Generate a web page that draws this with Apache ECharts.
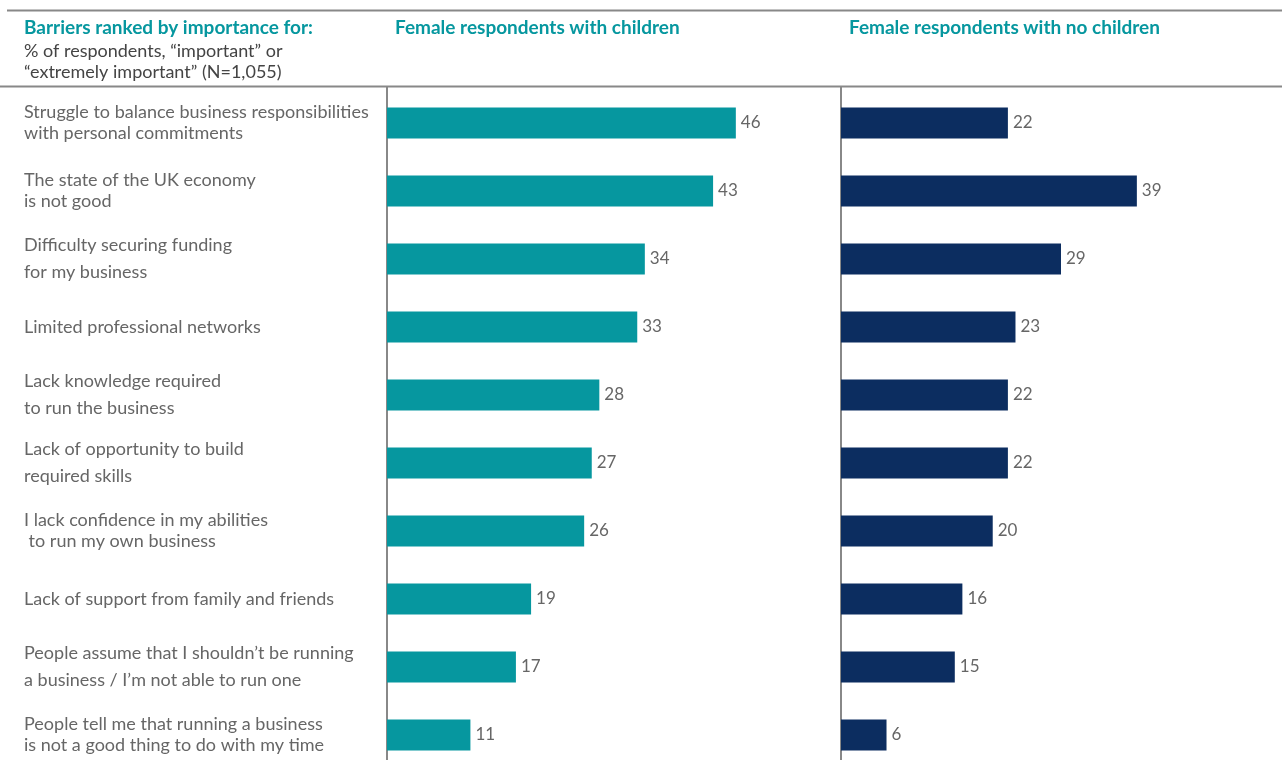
<!DOCTYPE html>
<html>
<head>
<meta charset="utf-8">
<script src="https://cdn.jsdelivr.net/npm/echarts@6/dist/echarts.min.js"></script>
<style>
    html, body { margin: 0; padding: 0; background: #fff; }
    #chart { width: 1282px; height: 760px; }
</style>
</head>
<body>
<div id="chart"></div>
<script>
    // barrier labels (top to bottom)
    const barriers = [
        'Struggle to balance business responsibilities\nwith personal commitments',
        'The state of the UK economy\nis not good',
        'Difficulty securing funding\nfor my business',
        'Limited professional networks',
        'Lack knowledge required\nto run the business',
        'Lack of opportunity to build\nrequired skills',
        'I lack confidence in my abilities\n to run my own business',
        'Lack of support from family and friends',
        'People assume that I shouldn\u2019t be running\na business / I\u2019m not able to run one',
        'People tell me that running a business\nis not a good thing to do with my time'
    ];
    const withChildren = [46, 43, 34, 33, 28, 27, 26, 19, 17, 11];
    const noChildren = [22, 39, 29, 23, 22, 22, 20, 16, 15, 6];

    const headLeft = 'Barriers ranked by importance for:';
    const subLines = ['% of respondents, \u201cimportant\u201d or', '\u201cextremely important\u201d (N=1,055)'];
    const headWith = 'Female respondents with children';
    const headNo = 'Female respondents with no children';

    const TEAL = '#06979f';
    const NAVY = '#0c2d60';
    const GREY = '#666';
    const FONT = 'Lato';

    // rows whose two label lines sit further apart
    const wideRows = [2, 4, 5, 8];

    const chart = echarts.init(document.getElementById('chart'));

    const catAxis = (gridIndex, showLabel) => ({
        type: 'category',
        gridIndex: gridIndex,
        data: barriers,
        inverse: true,
        axisTick: {show: false},
        axisLine: {show: true, lineStyle: {color: '#888', width: 2}},
        axisLabel: {
            show: showLabel,
            align: 'left',
            margin: 363,
            fontFamily: FONT,
            fontSize: 18,
            color: GREY,
            formatter: (val, idx) => {
                const key = wideRows.indexOf(idx) >= 0 ? 'w' : 'n';
                return val.split('\n').map(s => '{' + key + '|' + s + '}').join('\n');
            },
            rich: {
                n: {fontFamily: FONT, fontSize: 18, color: GREY, lineHeight: 21},
                w: {fontFamily: FONT, fontSize: 18, color: GREY, lineHeight: 27}
            }
        }
    });

    const valAxis = (gridIndex, max) => ({
        type: 'value',
        gridIndex: gridIndex,
        min: 0,
        max: max,
        show: false
    });

    const barSeries = (name, idx, data, color) => ({
        name: name,
        type: 'bar',
        xAxisIndex: idx,
        yAxisIndex: idx,
        data: data,
        barWidth: '45.5%',
        itemStyle: {color: color},
        label: {
            show: true,
            position: 'right',
            distance: 5,
            fontFamily: FONT,
            fontSize: 17,
            color: GREY
        },
        silent: true
    });

    chart.setOption({
        animation: false,
        grid: [
            {left: 387, top: 89, width: 455, height: 680, outerBoundsMode: 'none'},
            {left: 841, top: 89, width: 440, height: 680, outerBoundsMode: 'none'}
        ],
        xAxis: [valAxis(0, 60), valAxis(1, 58)],
        yAxis: [catAxis(0, true), catAxis(1, false)],
        series: [
            barSeries(headWith, 0, withChildren, TEAL),
            barSeries(headNo, 1, noChildren, NAVY)
        ],
        graphic: [
            {type: 'line', shape: {x1: 7, y1: 10.5, x2: 1282, y2: 10.5}, style: {stroke: '#888', lineWidth: 2}},
            {type: 'line', shape: {x1: 0, y1: 86.5, x2: 1282, y2: 86.5}, style: {stroke: '#888', lineWidth: 2}},
            // short joins between the header rule and the two axis lines
            {type: 'line', shape: {x1: 387, y1: 86, x2: 387, y2: 90}, style: {stroke: '#888', lineWidth: 2}},
            {type: 'line', shape: {x1: 841, y1: 86, x2: 841, y2: 90}, style: {stroke: '#888', lineWidth: 2}},
            {type: 'text', left: 24, top: 18, style: {text: headLeft, fill: TEAL, font: 'bold 19px ' + FONT}},
            {type: 'text', left: 24, top: 41, style: {text: subLines.join('\n'), fill: '#444', font: '18px ' + FONT, lineHeight: 21}},
            {type: 'text', left: 395, top: 18, style: {text: headWith, fill: TEAL, font: 'bold 19px ' + FONT}},
            {type: 'text', left: 849, top: 18, style: {text: headNo, fill: TEAL, font: 'bold 19px ' + FONT}}
        ]
    });
</script>
</body>
</html>
